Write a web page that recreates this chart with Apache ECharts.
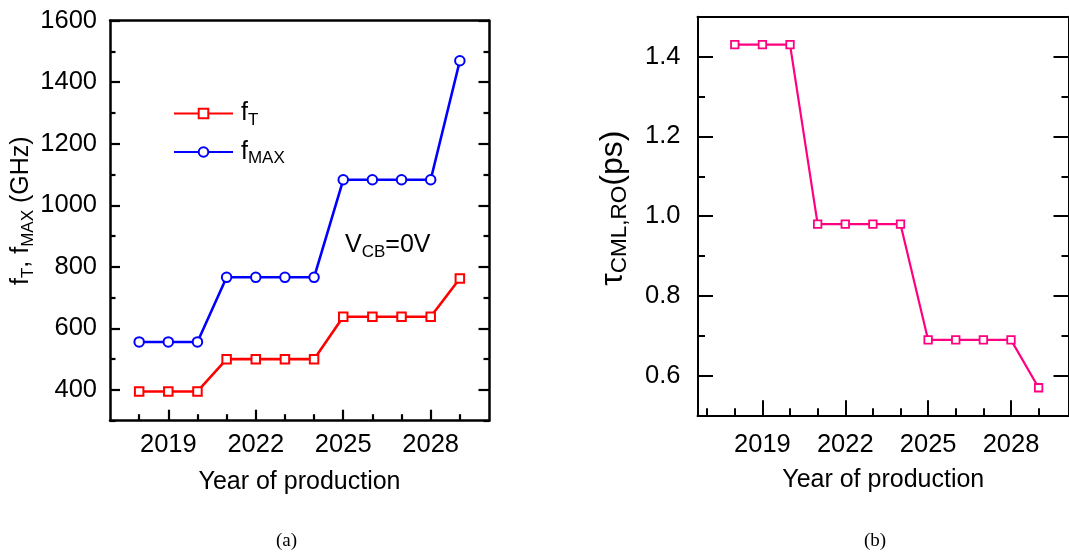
<!DOCTYPE html>
<html>
<head>
<meta charset="utf-8">
<script src="https://cdn.jsdelivr.net/npm/echarts@6/dist/echarts.min.js"></script>
<style>
html,body{margin:0;padding:0;background:#fff;}
#c{width:1069px;height:554px;}
</style>
</head>
<body>
<div id="c"></div>
<script>
// ---- data ----
const years = [2018, 2019, 2020, 2021, 2022, 2023, 2024, 2025, 2026, 2027, 2028, 2029];
const fT   = [395, 395, 395, 500, 500, 500, 500, 638, 638, 638, 638, 762];
const fMAX = [556, 556, 556, 766, 766, 766, 766, 1083, 1083, 1083, 1083, 1470];
const tau  = [1.43, 1.43, 1.43, 0.98, 0.98, 0.98, 0.98, 0.69, 0.69, 0.69, 0.69, 0.57];

// ---- tick positions ----
const xMajor = [2019, 2022, 2025, 2028];
const xMinorA = [2018, 2020, 2021, 2023, 2024, 2026, 2027, 2029];
const xMinorB = [2017, 2018, 2020, 2021, 2023, 2024, 2026, 2027, 2029];
const yMajorA = [400, 600, 800, 1000, 1200, 1400, 1600];
const yMinorA = [300, 500, 700, 900, 1100, 1300, 1500];
const yMajorB = [0.6, 0.8, 1.0, 1.2, 1.4];
const yMinorB = [0.7, 0.9, 1.1, 1.3];

const FONT = 'Liberation Sans';
const rich = {
  n: {fontSize: 25, fontFamily: FONT, color: '#000', lineHeight: 30},
  s: {fontSize: 17, fontFamily: FONT, color: '#000', lineHeight: 17, verticalAlign: 'bottom'}
};
const richBig = {
  n: {fontSize: 32, fontFamily: FONT, color: '#000', lineHeight: 37},
  s: {fontSize: 22.5, fontFamily: FONT, color: '#000', lineHeight: 21, verticalAlign: 'bottom'}
};

const chart = echarts.init(document.getElementById('c'), null, {renderer: 'canvas'});

function pair(xs, ys) { return xs.map((x, i) => [x, ys[i]]); }

function ax(grid, opts) {
  return Object.assign({
    type: 'value', gridIndex: grid, position: 'bottom',
    splitLine: {show: false},
    axisLine: {show: false},
    axisTick: {show: false},
    axisLabel: {show: false}
  }, opts);
}

const lwA = 2.5, lwB = 2;
const LBL = {fontSize: 25.5, fontFamily: FONT, color: '#000'};

const option = {
  animation: false,
  backgroundColor: '#fff',
  grid: [
    {left: 110, top: 20.7, width: 379, height: 400},
    {left: 697.5, top: 16.7, width: 382.5, height: 399}
  ],
  xAxis: [
    ax(0, {min: 2017, max: 2030,
      axisLine: {show: true, onZero: false, lineStyle: {color: '#000', width: lwA}},
      axisTick: {show: true, inside: true, length: 11, customValues: xMajor, lineStyle: {color: '#000', width: 2.2}},
      axisLabel: Object.assign({show: true, customValues: xMajor, margin: 11, formatter: v => String(v)}, LBL),
      name: 'Year of production', nameLocation: 'middle', nameGap: 49,
      nameTextStyle: {fontSize: 25, fontFamily: FONT, color: '#000'}
    }),
    ax(0, {min: 2017, max: 2030,
      axisTick: {show: true, inside: true, length: 6.5, customValues: xMinorA, lineStyle: {color: '#000', width: 2.2}}
    }),
    ax(0, {min: 2017, max: 2030, position: 'top',
      axisLine: {show: true, onZero: false, lineStyle: {color: '#000', width: lwA}}
    }),
    ax(1, {min: 2016.65, max: 2030.1,
      axisLine: {show: true, onZero: false, lineStyle: {color: '#000', width: lwB}},
      axisTick: {show: true, inside: true, length: 15.5, customValues: xMajor, lineStyle: {color: '#000', width: 2}},
      axisLabel: Object.assign({show: true, customValues: xMajor, margin: 16, formatter: v => String(v)}, LBL),
      name: 'Year of production', nameLocation: 'middle', nameGap: 52,
      nameTextStyle: {fontSize: 25, fontFamily: FONT, color: '#000'}
    }),
    ax(1, {min: 2016.65, max: 2030.1,
      axisTick: {show: true, inside: true, length: 7.5, customValues: xMinorB, lineStyle: {color: '#000', width: 2}}
    }),
    ax(1, {min: 2016.65, max: 2030.1, position: 'top',
      axisLine: {show: true, onZero: false, lineStyle: {color: '#000', width: lwB}}
    })
  ],
  yAxis: [
    ax(0, {min: 300, max: 1600, position: 'left',
      axisLine: {show: true, onZero: false, lineStyle: {color: '#000', width: lwA}},
      axisTick: {show: true, inside: true, length: 10, customValues: yMajorA, lineStyle: {color: '#000', width: 2.2}},
      axisLabel: Object.assign({show: true, customValues: yMajorA, margin: 13, formatter: v => String(v)}, LBL),
      name: '{n|f}{s|T}{n|, f}{s|MAX}{n| (GHz)}', nameLocation: 'middle', nameGap: 68, nameRotate: 90,
      nameTextStyle: {fontSize: 25, fontFamily: FONT, color: '#000', padding: [0, 0, 0, 20], rich: rich}
    }),
    ax(0, {min: 300, max: 1600, position: 'left',
      axisTick: {show: true, inside: true, length: 5.5, customValues: yMinorA, lineStyle: {color: '#000', width: 2.2}}
    }),
    ax(0, {min: 300, max: 1600, position: 'right',
      axisLine: {show: true, onZero: false, lineStyle: {color: '#000', width: lwA}},
      axisTick: {show: true, inside: true, length: 10.5, customValues: yMajorA, lineStyle: {color: '#000', width: 2.2}}
    }),
    ax(0, {min: 300, max: 1600, position: 'right',
      axisTick: {show: true, inside: true, length: 5.5, customValues: yMinorA, lineStyle: {color: '#000', width: 2.2}}
    }),
    ax(1, {min: 0.5, max: 1.5, position: 'left',
      axisLine: {show: true, onZero: false, lineStyle: {color: '#000', width: lwB}},
      axisTick: {show: true, inside: true, length: 15.5, customValues: yMajorB, lineStyle: {color: '#000', width: 2}},
      axisLabel: Object.assign({show: true, customValues: yMajorB, margin: 17, formatter: v => v.toFixed(1)}, LBL),
      name: '{n|τ}{s|CML,RO}{n|(ps)}', nameLocation: 'middle', nameGap: 66, nameRotate: 90,
      nameTextStyle: {fontSize: 32, fontFamily: FONT, color: '#000', padding: [0, 0, 0, 16], rich: richBig}
    }),
    ax(1, {min: 0.5, max: 1.5, position: 'left',
      axisTick: {show: true, inside: true, length: 7.5, customValues: yMinorB, lineStyle: {color: '#000', width: 2}}
    }),
    ax(1, {min: 0.5, max: 1.5, position: 'right',
      axisLine: {show: true, onZero: false, lineStyle: {color: '#000', width: lwB}},
      axisTick: {show: true, inside: true, length: 15.5, customValues: yMajorB, lineStyle: {color: '#000', width: 2}}
    }),
    ax(1, {min: 0.5, max: 1.5, position: 'right',
      axisTick: {show: true, inside: true, length: 7.5, customValues: yMinorB, lineStyle: {color: '#000', width: 2}}
    })
  ],
  legend: {
    orient: 'vertical', left: 173, top: 101, padding: 0,
    itemWidth: 59, itemHeight: 12, itemGap: 11,
    data: ['fT', 'fMAX'],
    formatter: name => name === 'fT' ? '{n|f}{s|T}' : '{n|f}{s|MAX}',
    textStyle: {fontSize: 25, fontFamily: FONT, color: '#000', padding: [0, 0, 0, 3], rich: rich}
  },
  graphic: [
    {type: 'text', left: 345, top: 233, silent: true,
      style: {text: '{n|V}{s|CB}{n|=0V}', rich: rich, fontSize: 25, fontFamily: FONT, fill: '#000'}},
    {type: 'text', left: 276, top: 532, silent: true,
      style: {text: '(a)', fontSize: 19, fontFamily: 'Liberation Serif', fill: '#000'}},
    {type: 'text', left: 864, top: 532, silent: true,
      style: {text: '(b)', fontSize: 19, fontFamily: 'Liberation Serif', fill: '#000'}}
  ],
  series: [
    {name: 'fT', type: 'line', xAxisIndex: 0, yAxisIndex: 0, data: pair(years, fT),
      symbol: 'rect', symbolSize: 8.5,
      lineStyle: {color: '#ff0000', width: 2.6},
      itemStyle: {color: '#ffffff', borderColor: '#ff0000', borderWidth: 2}},
    {name: 'fMAX', type: 'line', xAxisIndex: 0, yAxisIndex: 0, data: pair(years, fMAX),
      symbol: 'circle', symbolSize: 9.5,
      lineStyle: {color: '#0000ff', width: 2.6},
      itemStyle: {color: '#ffffff', borderColor: '#0000ff', borderWidth: 2}},
    {name: 'tau', type: 'line', xAxisIndex: 3, yAxisIndex: 4, data: pair(years, tau),
      symbol: 'rect', symbolSize: 7.5,
      lineStyle: {color: '#ff0080', width: 2.2},
      itemStyle: {color: '#ffffff', borderColor: '#ff0080', borderWidth: 1.8}}
  ]
};
chart.setOption(option);
</script>
</body>
</html>
